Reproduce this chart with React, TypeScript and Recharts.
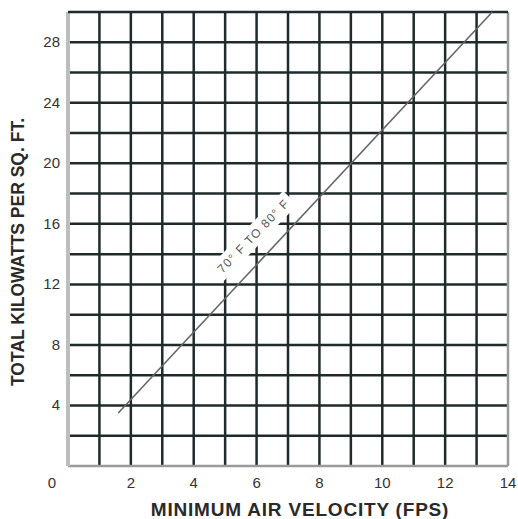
import React from 'react';
import { LineChart, Line, XAxis, YAxis, ReferenceLine, ReferenceDot, Label } from 'recharts';

const xTicks = [0, 2, 4, 6, 8, 10, 12, 14];
const yTicks = [4, 8, 12, 16, 20, 24, 28];
const gridX = [1, 2, 3, 4, 5, 6, 7, 8, 9, 10, 11, 12, 13];
const gridY = [2, 4, 6, 8, 10, 12, 14, 16, 18, 20, 22, 24, 26, 28];
const lineData = [
  { v: 1.6, kw: 3.5 },
  { v: 13.5, kw: 30 },
];
const curveLabel = '70° F TO 80° F';
const labelV = 5.9;
const labelKw = 15.2;
const xTitle = 'MINIMUM AIR VELOCITY (FPS)';
const yTitle = 'TOTAL KILOWATTS PER SQ. FT.';

const GRID = '#1f2a2a';
const FONT = 'Liberation Sans, Arial, sans-serif';

const XTick = (props: any) => {
  const { x, y, payload } = props;
  const shift = payload.value === 0 ? -16 : 0;
  return (
    <text x={x + shift} y={y} dy={14} textAnchor="middle" fill="#333" fontSize={15} fontFamily={FONT}>
      {payload.value}
    </text>
  );
};

const YTick = (props: any) => {
  const { x, y, payload } = props;
  return (
    <text x={x} y={y} dy={5} textAnchor="end" fill="#333" fontSize={15} fontFamily={FONT}>
      {payload.value}
    </text>
  );
};

const CurveLabel = (props: any) => {
  const { cx, cy } = props;
  const w = 106;
  const h = 20;
  return (
    <g transform={`translate(${cx},${cy}) rotate(-46)`}>
      <rect x={-w / 2} y={-h / 2} width={w} height={h} fill="#fff" />
      <text x={0} y={4} textAnchor="middle" fill="#555" fontSize={12} letterSpacing={1.2} fontFamily={FONT}>
        {curveLabel}
      </text>
    </g>
  );
};

export default function App() {
  return (
    <div style={{ position: 'absolute', left: 0, top: 0, width: 518, height: 519, background: '#fff' }}>
      <LineChart width={518} height={519} data={lineData} margin={{ top: 12, right: 10, bottom: 8, left: 8 }}>
        <XAxis
          type="number"
          dataKey="v"
          domain={[0, 14]}
          ticks={xTicks}
          axisLine={false}
          tickLine={false}
          height={45}
          tick={<XTick />}
          interval={0}
        >
          <Label
            content={(p: any) => {
              const vb = p.viewBox;
              return (
                <text
                  x={vb.x + vb.width / 2 + 12}
                  y={vb.y + vb.height + 5}
                  textAnchor="middle"
                  fill="#2a2a2a"
                  fontSize={19}
                  fontWeight="bold"
                  letterSpacing={0.8}
                  fontFamily={FONT}
                >
                  {xTitle}
                </text>
              );
            }}
          />
        </XAxis>
        <YAxis
          type="number"
          domain={[0, 30]}
          ticks={yTicks}
          axisLine={false}
          tickLine={false}
          width={60}
          tick={<YTick />}
          interval={0}
        >
          <Label
            content={(p: any) => {
              const vb = p.viewBox;
              const cx = vb.x + 10;
              const cy = vb.y + vb.height / 2 + 13;
              return (
                <text
                  x={cx}
                  y={cy}
                  transform={`rotate(-90, ${cx}, ${cy})`}
                  dy={6}
                  textAnchor="middle"
                  fill="#2a2a2a"
                  fontSize={17.5}
                  fontWeight="bold"
                  fontFamily={FONT}
                >
                  {yTitle}
                </text>
              );
            }}
          />
        </YAxis>
        {gridY.map((g) => (
          <ReferenceLine key={'gy' + g} y={g} stroke={GRID} strokeWidth={2.5} ifOverflow="visible" />
        ))}
        {gridX.map((g) => (
          <ReferenceLine key={'gx' + g} x={g} stroke={GRID} strokeWidth={2.5} ifOverflow="visible" />
        ))}
        <ReferenceLine y={0} stroke="#9a9a9a" strokeWidth={2.5} />
        <ReferenceLine x={0} stroke="#bdbdbd" strokeWidth={4} />
        <ReferenceLine x={14} stroke="#9a9a9a" strokeWidth={2.5} />
        <ReferenceLine y={30} stroke={GRID} strokeWidth={2.5} />
        <ReferenceDot x={labelV} y={labelKw} r={0} shape={<CurveLabel />} />
        <Line
          type="linear"
          dataKey="kw"
          stroke="#666"
          strokeWidth={1.6}
          dot={false}
          isAnimationActive={false}
        />
      </LineChart>
    </div>
  );
}
